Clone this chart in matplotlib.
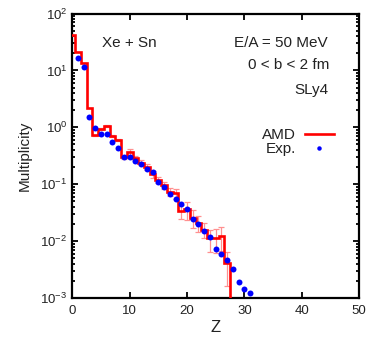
import matplotlib
matplotlib.use("Agg")
import matplotlib.pyplot as plt
import numpy as np

plt.rcParams['font.family'] = ['Liberation Sans', 'DejaVu Sans']
plt.rcParams['mathtext.fontset'] = 'custom'
plt.rcParams['mathtext.rm'] = 'Liberation Sans'
plt.rcParams['mathtext.it'] = 'Liberation Sans:italic'
plt.rcParams['axes.unicode_minus'] = False

# Experimental multiplicity vs Z (Z = 1..31)
exp_z = list(range(1, 32))
exp_mult = [16.3, 11.3, 1.53, 0.96, 0.76, 0.76, 0.56, 0.43, 0.30, 0.30,
            0.26, 0.226, 0.185, 0.162, 0.108, 0.088, 0.068, 0.056, 0.045, 0.037,
            0.0244, 0.020, 0.0152, 0.0119, 0.0073, 0.0059, 0.0047, 0.0032, 0.0019, 0.00142,
            0.00121]

# AMD histogram (bins centred on Z = 0..27)
amd_z = list(range(0, 28))
amd_mult = [42.0, 21.0, 13.3, 2.15, 0.72, 0.93, 1.07, 0.71, 0.60, 0.30,
            0.37, 0.285, 0.24, 0.20, 0.15, 0.119, 0.097, 0.074, 0.070, 0.034,
            0.036, 0.026, 0.021, 0.016, 0.0112, 0.0112, 0.0124, 0.0041]
# relative statistical errors of AMD
amd_relerr = [0.0, 0.0, 0.0, 0.0, 0.03, 0.04, 0.04, 0.05, 0.05, 0.06,
              0.12, 0.08, 0.10, 0.12, 0.15, 0.12, 0.15, 0.15, 0.20, 0.27,
              0.35, 0.35, 0.30, 0.30, 0.42, 0.45, 0.45, 0.60]

txt = '#222222'

fig = plt.figure(figsize=(3.66, 3.40), dpi=100)
ax = fig.add_axes([0.1975, 0.1235, 0.7835, 0.8365])

edges = np.arange(-0.5, len(amd_z) - 0.5 + 1e-9, 1.0)
ax.stairs(amd_mult, edges, baseline=1e-5, color='#ff0000', lw=1.9, zorder=3, label='AMD')

amd_err = np.array(amd_mult) * np.array(amd_relerr)
mask = np.array(amd_relerr) > 0
ax.errorbar(np.array(amd_z)[mask], np.array(amd_mult)[mask], yerr=amd_err[mask],
            fmt='none', ecolor='#ff9090', elinewidth=0.9, capsize=2, capthick=0.9, zorder=2)

ax.plot(exp_z, exp_mult, 'o', color='#0000ff', ms=4.3, mec='none', zorder=4, label='Exp.')

ax.set_yscale('log')
ax.set_xlim(0, 50)
ax.set_ylim(1e-3, 1e2)
ax.set_xticks([0, 10, 20, 30, 40, 50])
ax.tick_params(which='both', direction='in', top=True, right=True, width=1.3, colors='black',
               labelcolor=txt, labelsize=9.5)
ax.tick_params(which='major', length=4.5)
ax.tick_params(which='minor', length=2.5)
ax.tick_params(axis='x', which='minor', bottom=False, top=False)
ax.tick_params(axis='x', pad=5)
for s in ax.spines.values():
    s.set_linewidth(1.6)

ax.set_xlabel('Z', fontsize=12, color=txt, labelpad=2)
ax.set_ylabel('Multiplicity', fontsize=11, color=txt, labelpad=6)

ax.text(0.102, 0.895, 'Xe + Sn', transform=ax.transAxes, fontsize=11, color=txt,
        ha='left', va='center')
ax.text(0.892, 0.895, 'E/A = 50 MeV', transform=ax.transAxes, fontsize=11, color=txt,
        ha='right', va='center')
ax.text(0.895, 0.819, '0 < b < 2 fm', transform=ax.transAxes, fontsize=11, color=txt,
        ha='right', va='center')
ax.text(0.895, 0.731, 'SLy4', transform=ax.transAxes, fontsize=11, color=txt,
        ha='right', va='center')

h, l = ax.get_legend_handles_labels()
leg = ax.legend(h, l, loc='upper right', bbox_to_anchor=(0.912, 0.598), frameon=False,
                markerfirst=False, fontsize=11, labelspacing=0.0, handletextpad=0.6,
                handlelength=1.9, borderpad=0.0, borderaxespad=0.0, markerscale=0.75)
for t in leg.get_texts():
    t.set_color(txt)

fig.savefig('out.png', dpi=100)
